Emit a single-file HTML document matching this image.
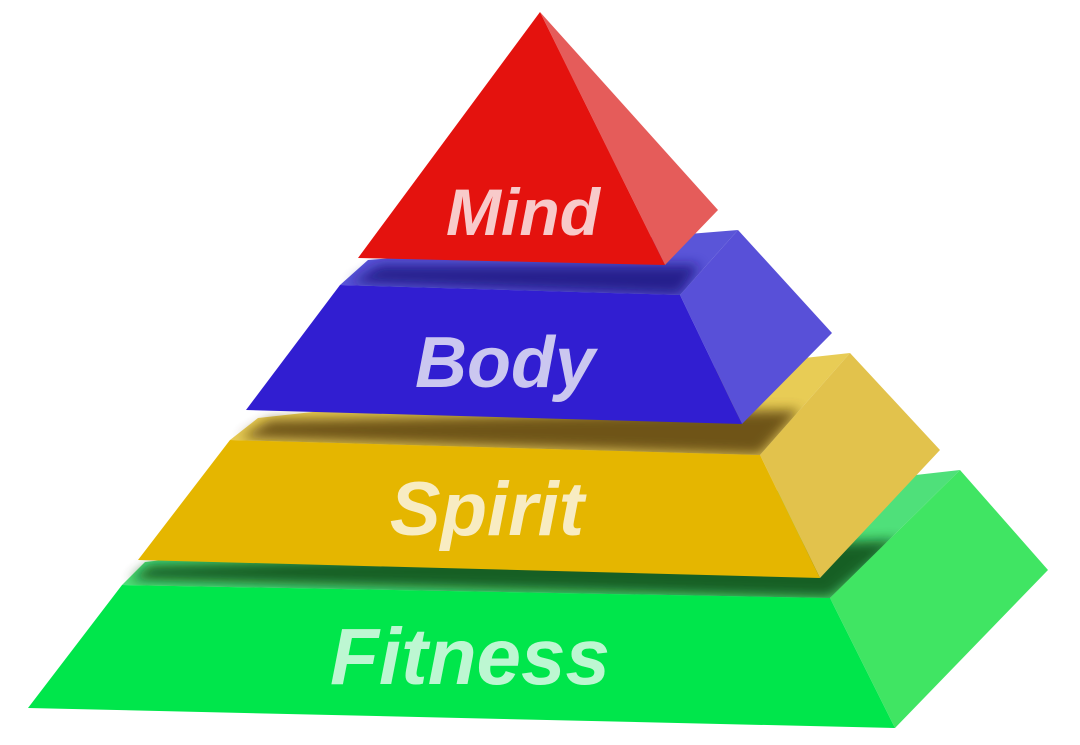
<!DOCTYPE html>
<html><head><meta charset="utf-8"><style>
html,body{margin:0;padding:0;background:#fff;width:1080px;height:745px;overflow:hidden}
svg{display:block}
text{font-family:"Liberation Sans",sans-serif;font-weight:bold;font-style:italic}
</style></head><body>
<svg width="1080" height="745" viewBox="0 0 1080 745">
<defs>
<filter id="b" x="-20%" y="-50%" width="140%" height="200%"><feGaussianBlur stdDeviation="6"/></filter>
</defs>
<!-- Green -->
<polygon points="122,585 145,562 960,470 830,598" fill="#4fe07a"/>
<polygon points="130,580 830,598 900,540 150,565" fill="#0a4a12" filter="url(#b)" opacity="0.85"/>
<polygon points="830,598 960,470 1048,570 895,728" fill="#40e563"/>
<polygon points="122,585 830,598 895,728 28,708" fill="#00e64b"/>
<text x="470" y="684" font-size="80" fill="#bdf7d2" text-anchor="middle">Fitness</text>
<!-- Yellow -->
<polygon points="230,440 258,418 850,353 760,455" fill="#e8cc55"/>
<polygon points="240,438 760,455 800,410 270,420" fill="#5a4010" filter="url(#b)" opacity="0.85"/>
<polygon points="760,455 850,353 940,450 820,578" fill="#e2c24c"/>
<polygon points="230,440 760,455 820,578 138,560" fill="#e5b600"/>
<text x="487" y="535" font-size="76" fill="#f8ecc2" text-anchor="middle">Spirit</text>
<!-- Blue -->
<polygon points="340,285 368,260 738,230 680,295" fill="#5a55d8"/>
<polygon points="350,283 680,295 700,265 380,265" fill="#1a1280" filter="url(#b)" opacity="0.85"/>
<polygon points="680,295 738,230 832,333 742,424" fill="#5850d8"/>
<polygon points="340,285 680,295 742,424 246,410" fill="#311ed1"/>
<text x="505" y="387" font-size="72" fill="#cbc7f0" text-anchor="middle">Body</text>
<!-- Red -->
<polygon points="540,12 718,210 665,265" fill="#e55c5a"/>
<polygon points="540,12 665,265 358,258" fill="#e4120e"/>
<text x="523" y="235" font-size="66" fill="#f8caca" text-anchor="middle">Mind</text>
</svg>
</body></html>
